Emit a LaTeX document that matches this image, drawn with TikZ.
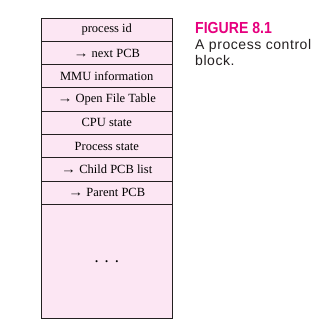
\documentclass[tikz,border=0pt]{standalone}
\usepackage{fontspec}
\setmainfont{Liberation Serif}
\newfontfamily\capfont[LetterSpace=4]{Liberation Sans}
\newfontfamily\figfont{Liberation Sans}
\usetikzlibrary{positioning}
\definecolor{pcbpink}{RGB}{252, 230, 243}
\definecolor{pcbline}{RGB}{35, 31, 32}
\definecolor{figmagenta}{RGB}{230, 0, 126}
\newcommand{\ptr}{\scalebox{1.2}[1]{→}}

\begin{document}
\begin{tikzpicture}[
  x=1pt, y=-1pt,
  every node/.style={font=\fontsize{12.5}{14}\selectfont},
  row/.style={
    draw=pcbline, fill=pcbpink, line width=0.9pt,
    minimum width=131.5pt, minimum height=23.3pt,
    inner sep=0pt, outer sep=0pt
  },
  caption/.style={anchor=base west, inner sep=0pt, text=pcbline,
    font=\capfont\fontsize{14}{16.5}\selectfont}
]
  \useasboundingbox (0,0) rectangle (336,331);

  % rows of the control block
  \node[row, anchor=north west] (pid) at (41,18) {process id};
  \node[row, below=0pt of pid] (next) {\ptr\ next PCB};
  \node[row, below=0pt of next] (mmu) {MMU information};
  \node[row, below=0pt of mmu] (oft) {\ptr\ Open File Table};
  \node[row, below=0pt of oft] (cpu) {CPU state};
  \node[row, below=0pt of cpu] (pstate) {Process state};
  \node[row, below=0pt of pstate] (child) {\ptr\ Child PCB list};
  \node[row, below=0pt of child] (parent) {\ptr\ Parent PCB};
  \node[row, below=0pt of parent, minimum height=114.5pt] (rest) {\textbf{.\hspace{7pt}.\hspace{7pt}.}};

  % caption
  \node[caption, text=figmagenta, font=\figfont\bfseries\fontsize{16}{18}\selectfont]
    (fig) at (195,33.3) {\scalebox{0.88}[1]{FIGURE 8.1}};
  \node[caption] (cap1) at (195,50) {A process control};
  \node[caption] (cap2) at (195,66) {block.};
\end{tikzpicture}
\end{document}
